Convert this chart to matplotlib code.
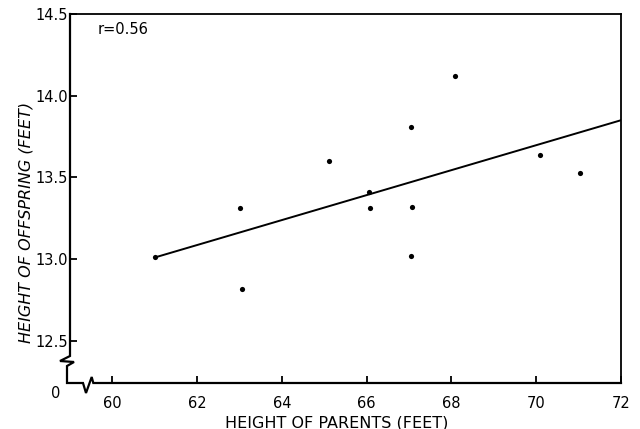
import numpy as np
import matplotlib
matplotlib.use("Agg")
import matplotlib.pyplot as plt
from matplotlib.lines import Line2D

# ---- data ----
parent_height = [61.0, 63.0, 63.05, 65.1, 66.05, 66.07, 67.05, 67.08, 67.05, 68.08, 70.08, 71.03]
offspring_height = [13.01, 13.31, 12.82, 13.60, 13.41, 13.31, 13.81, 13.32, 13.02, 14.12, 13.635, 13.53]
fit_x = [61.0, 72.0]
fit_y = [13.01, 13.85]
x_ticks = [60, 62, 64, 66, 68, 70, 72]
y_ticks = [12.5, 13.0, 13.5, 14.0, 14.5]
y_tick_labels = ["12.5", "13.0", "13.5", "14.0", "14.5"]
r_text = "r=0.56"

plt.rcParams['font.family'] = ['DejaVu Sans']

W, H = 640, 429
fig = plt.figure(figsize=(6.4, 4.29), dpi=100)
L, R, T, B = 70, 621, 14, 383
ax = fig.add_axes([L / W, 1 - B / H, (R - L) / W, (B - T) / H])

ax.scatter(parent_height, offspring_height, s=14, color='black', zorder=3, linewidths=0)
ax.plot(fit_x, fit_y, color='black', lw=1.4, zorder=2)

ax.set_xlim(59.0, 72.0)
ax.set_ylim(12.242, 14.5)
ax.set_xticks(x_ticks)
ax.set_yticks(y_ticks)
ax.set_yticklabels(y_tick_labels)
ax.tick_params(direction='in', length=5, width=1.3, labelsize=10.5, color='black')
ax.tick_params(axis='y', pad=1.5)
ax.tick_params(axis='x', pad=9)

for s in ['top', 'right']:
    ax.spines[s].set_linewidth(1.3)
for s in ['left', 'bottom']:
    ax.spines[s].set_visible(False)

# manual left/bottom spines with axis breaks (pixel positions -> axes fraction)
def fx(px):
    return (px - L) / (R - L)

def fy(py):
    return (B - py) / (B - T)

brk_px = [(70, 14), (70, 356), (60, 361), (74, 362), (67, 366), (67, 383),
          (83, 383), (86, 393), (91.7, 377), (93.3, 383), (621, 383)]
ax.add_line(Line2D([fx(p[0]) for p in brk_px], [fy(p[1]) for p in brk_px],
                   transform=ax.transAxes, color='black', lw=1.6, clip_on=False,
                   solid_joinstyle='miter', zorder=4))

ax.text(fx(55.5), fy(393), "0", transform=ax.transAxes, ha='center', va='center', fontsize=10.5)
ax.text(fx(98), fy(29), r_text, transform=ax.transAxes, ha='left', va='center', fontsize=10.5)

ax.set_xlabel("HEIGHT OF PARENTS (FEET)", fontsize=11.5)
ax.xaxis.set_label_coords(fx(337), fy(415))
ax.set_ylabel("HEIGHT OF OFFSPRING (FEET)", fontsize=11.5, style='italic')
ax.yaxis.set_label_coords(fx(34), fy(222))

fig.savefig("out.png", dpi=100)
